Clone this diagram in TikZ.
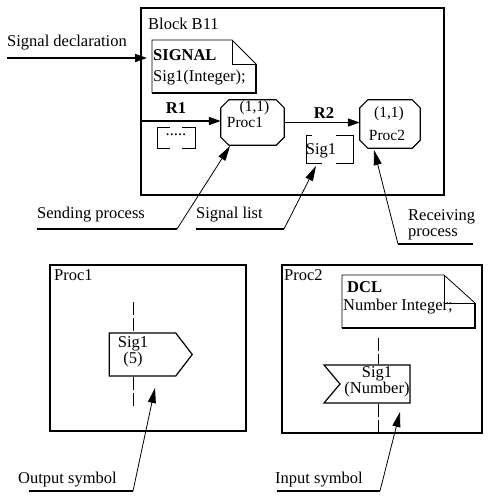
\documentclass[tikz,border=0pt]{standalone}
\usepackage{fontspec}
\setmainfont{Liberation Serif}
\usetikzlibrary{arrows.meta,shapes.symbols,calc}

% octagonal process outline round a named node
\newcommand{\procoutline}[1]{%
  \draw[line width=1.2pt]
    ($(#1.north west)+(8,0)$) -- ($(#1.north east)+(-8,0)$) --
    ($(#1.north east)+(0,8)$) -- ($(#1.south east)+(0,-8)$) --
    ($(#1.south east)+(-8,0)$) -- ($(#1.south west)+(8,0)$) --
    ($(#1.south west)+(0,-8)$) -- ($(#1.north west)+(0,8)$) -- cycle;}

\begin{document}
\begin{tikzpicture}[
  x=1pt, y=-1pt,
  font = \fontsize{16.5}{15}\selectfont,
  every node/.style = {inner sep=0pt, align=center},
  frame/.style    = {draw, line width=1.4pt},
  thinline/.style = {line width=0.8pt},
  boldline/.style = {line width=1.6pt},
  procbox/.style  = {rectangle, minimum width=63pt, minimum height=45pt},
  outsym/.style   = {draw, line width=1.2pt, signal, signal to=east,
                     signal pointer angle=105, minimum width=83pt, minimum height=43pt},
  insym/.style    = {draw, line width=1.2pt, signal, signal from=west, signal to=nowhere,
                     signal pointer angle=100, minimum width=86pt, minimum height=38pt},
  route/.style    = {-{Triangle[length=12pt,width=8pt]}, line width=1.6pt},
  leader/.style   = {-{Triangle[length=15pt,width=8pt]}, line width=0.8pt},
  lifeline/.style = {line width=0.8pt, dash pattern=on 13pt off 3pt},
]
\useasboundingbox (0,0) rectangle (489,501);

% Block B11
\draw[frame] (141,8) rectangle (444,195);
\node[anchor=west] (blk) at (148,24) {Block B11};

% Signal declaration
\node[anchor=west] (sdtxt) at (7,43) {Signal declaration};
\coordinate (sdin) at (7,58);
\coordinate (sdtip) at (147,58);
\draw[route] (sdin) -- (sdtip);
\draw[thinline] (256,64) -- (232,40) -- (152,40) -- (152,93);
\draw[boldline] (152,93) -- (256,93) -- (256,64);
\draw[thinline] (232,40) -- (232,64) -- (256,64);
\node[anchor=west] (sigkw)  at (153,55) {\textbf{SIGNAL}};
\node[anchor=west] (sigdef) at (153,78) {Sig1(Integer);};

% Processes
\node[procbox] (p1) at (252.5,122.5) {};
\node[procbox, minimum width=60pt, minimum height=48pt] (p2) at (390,124) {};
\procoutline{p1}
\procoutline{p2}
\node[font=\fontsize{15.5}{15}\selectfont] (p1n) at (254.5,108) {(1,1)};
\node[font=\fontsize{15.5}{15}\selectfont] (p1t) at (245,122) {Proc1};
\node[font=\fontsize{15.5}{15}\selectfont] (p2n) at (389,114) {(1,1)};
\node[font=\fontsize{15.5}{15}\selectfont] (p2t) at (387,135) {Proc2};

% Signal routes
\coordinate (r1in) at (141,121);
\draw[route] (r1in) -- (r1in -| p1.west);
\node (r1) at (176,108) {\textbf{R1}};
\draw[route] (p1.east) -- (p1.east -| p2.west);
\node (r2) at (324,113) {\textbf{R2}};

% Signal lists
\node (l1) at (176,135) {.....};
\draw[thinline] (170,127) -- (157,127) -- (157,148) -- (170,148);
\draw[thinline] (182,127) -- (195,127) -- (195,148) -- (182,148);
\node (l2) at (321,151) {Sig1};
\draw[thinline] (312,135) -- (306,135) -- (306,163) -- (322,163);
\draw[thinline] (336,135) -- (353,135) -- (353,163) -- (336,163);

% Leaders (upper)
\node[anchor=west] (sendtxt) at (37,215) {Sending process};
\coordinate (sendk) at (177,229);
\coordinate (sendtip) at (230,146);
\draw[boldline] (37,229) -- (sendk);
\draw[leader] (sendk) -- (sendtip);

\node[anchor=west] (listtxt) at (196,215) {Signal list};
\coordinate (listk) at (284,229);
\coordinate (listtip) at (316,166);
\draw[boldline] (196,229) -- (listk);
\draw[leader] (listk) -- (listtip);

\node[anchor=west, align=left, font=\fontsize{16.5}{16}\selectfont]
  (recvtxt) at (408,225) {Receiving\\process};
\coordinate (recvk) at (398,244);
\coordinate (recvtip) at (374,150);
\draw[boldline] (recvk) -- (473,244);
\draw[leader] (recvk) -- (recvtip);

% Proc1 diagram
\draw[frame] (50,265) rectangle (246,431);
\node[anchor=west] (pr1) at (54,275) {Proc1};
\node[outsym] (out) at (142.5,354.5) {};
\node (outtxt) at (133,352) {Sig1\\(5)};
\coordinate (o1top) at (133,302);
\coordinate (o1bot) at (133,408);
\draw[lifeline] (o1top) -- (o1top |- out.north);
\draw[lifeline] (o1top |- out.south) -- (o1bot);

% Proc2 diagram
\draw[frame] (282,265) rectangle (482,433);
\node[anchor=west] (pr2) at (284,275) {Proc2};
\draw[thinline] (475,303) -- (444,275) -- (342,275) -- (342,328);
\draw[boldline] (342,328) -- (475,328) -- (475,303);
\draw[thinline] (444,275) -- (444,303) -- (475,303);
\node[anchor=west] (dclkw)  at (347,287) {\textbf{DCL}};
\node[anchor=west] (dcldef) at (343,307) {Number Integer;};
\node[insym] (in) at (375,384) {};
\node (intxt) at (377,382) {Sig1\\(Number)};
\coordinate (i2top) at (378,338);
\coordinate (i2bot) at (378,433);
\draw[lifeline] (i2top) -- (i2top |- in.north);
\draw[lifeline] (i2top |- in.south) -- (i2bot);

% Leaders (lower)
\node[anchor=west] (outlbl) at (18,480) {Output symbol};
\coordinate (outk) at (133,491);
\coordinate (outtip) at (155,388);
\draw[boldline] (29,491) -- (outk);
\draw[leader] (outk) -- (outtip);

\node[anchor=west] (inlbl) at (275,480) {Input symbol};
\coordinate (ink) at (380,491);
\coordinate (intip) at (400,412);
\draw[boldline] (277,491) -- (ink);
\draw[leader] (ink) -- (intip);

\end{tikzpicture}
\end{document}
